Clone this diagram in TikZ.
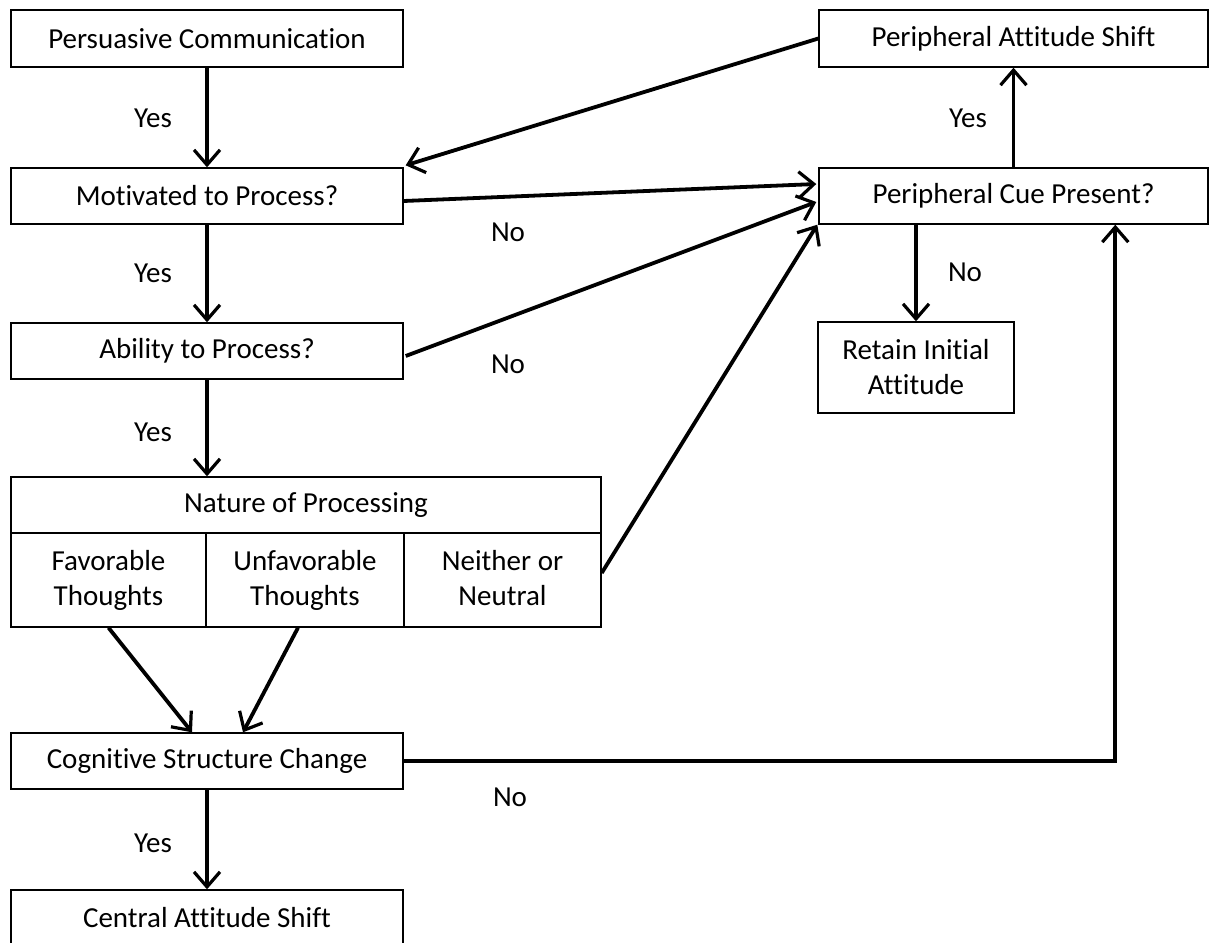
\documentclass[tikz,border=0pt]{standalone}
\usepackage{fontspec}
\setmainfont{Carlito}[Ligatures=NoCommon]
\usetikzlibrary{arrows.meta,calc}
\begin{document}
\begin{tikzpicture}[x=1pt,y={(0pt,-1pt)},
  box/.style={draw=black,line width=1.4pt,rectangle,inner sep=0pt,align=center,
    font=\fontsize{29}{35}\selectfont},
  flow/.style={line width=3.8pt,-{Straight Barb[length=15pt,width=26pt,line width=3.2pt]}},
  lbl/.style={font=\fontsize{29}{35}\selectfont,inner sep=0pt}
]
\useasboundingbox (0,0) rectangle (1209,942);

% left column
\node[box,minimum width=392pt,minimum height=57pt] (pc) at (207,38.5) {Persuasive Communication};
\node[box,minimum width=392pt,minimum height=56pt] (mot) at (207,196) {Motivated to Process?};
\node[box,minimum width=392pt,minimum height=56pt] (abl) at (207,351) {Ability to Process?};

% nature of processing table
\node[box,minimum width=590pt,minimum height=56pt] (nat) at (306,505) {Nature of Processing};
\node[box,minimum width=195pt,minimum height=94pt] (fav) at (108.5,580) {Favorable\\Thoughts};
\node[box,minimum width=198pt,minimum height=94pt] (unf) at (305,580) {Unfavorable\\Thoughts};
\node[box,minimum width=197pt,minimum height=94pt] (nei) at (502.5,580) {Neither or\\Neutral\vphantom{g}};

\node[box,minimum width=392pt,minimum height=56pt] (cog) at (207,761) {Cognitive Structure Change};
\node[box,minimum width=392pt,minimum height=56pt] (cen) at (207,918) {Central Attitude Shift};

% right column
\node[box,minimum width=389pt,minimum height=57pt] (pas) at (1013.5,38.5) {Peripheral Attitude Shift};
\node[box,minimum width=389pt,minimum height=56pt] (cue) at (1013.5,196) {Peripheral Cue Present?};
\node[box,minimum width=196pt,minimum height=91pt] (ret) at (916,367.5) {Retain Initial\\Attitude};

% central route
\draw[flow] (pc.south) -- (mot.north);
\draw[flow] (mot.south) -- (abl.north);
\draw[flow] (abl.south) -- (nat.north -| abl.south);
\draw[flow] (fav.south) -- ($(cog.north)+(-15,0)$);
\draw[flow] ($(unf.south)+(-7,0)$) -- ($(cog.north)+(36,0)$);
\draw[flow] (cog.south) -- (cen.north);

% peripheral route
\draw[flow] ($(mot.east)+(0,5)$) -- ($(cue.west)+(-2,-12)$);
\draw[flow] ($(abl.east)+(2,5)$) -- ($(cue.west)+(-2,6)$);
\draw[flow] ($(nei.east)+(0,-7)$) -- ($(cue.south west)+(-1,0)$);
\draw[flow] (cog.east) -| ($(cue.south west)+(297,0)$);
\draw[flow] (cue.north) -- (pas.south);
\draw[flow] (cue.south -| ret.north) -- (ret.north);
\draw[flow] (pas.west) -- ($(mot.north east)+(2,-2)$);

% branch labels
\node[lbl] (y1) at (153,118) {Yes};
\node[lbl] (y2) at (153,273) {Yes};
\node[lbl] (y3) at (153,432) {Yes};
\node[lbl] (y4) at (153,843) {Yes};
\node[lbl] (y5) at (968,118) {Yes};
\node[lbl] (n1) at (508,232) {No};
\node[lbl] (n2) at (508,364) {No};
\node[lbl] (n3) at (510,797) {No};
\node[lbl] (n4) at (965,272) {No};
\end{tikzpicture}
\end{document}
